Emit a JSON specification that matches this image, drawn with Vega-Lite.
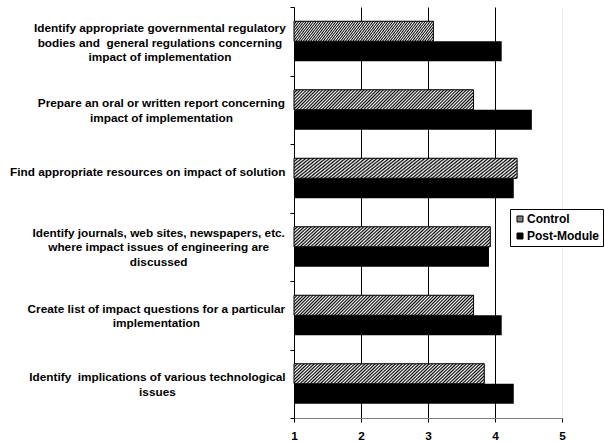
{
  "$schema": "https://vega.github.io/schema/vega-lite/v6.json",
  "width": 268,
  "height": 411,
  "autosize": {"type": "none"},
  "padding": {"left": 294, "top": 7, "right": 43, "bottom": 24},
  "background": "white",
  "config": {"view": {"stroke": null}, "font": "Liberation Sans"},
  "data": {
    "values": [
      {"task": "Identify appropriate governmental regulatory|bodies and\u00a0 general regulations concerning|impact of implementation", "series": "Control", "score": 3.08},
      {"task": "Identify appropriate governmental regulatory|bodies and\u00a0 general regulations concerning|impact of implementation", "series": "Post-Module", "score": 4.10},
      {"task": "Prepare an oral or written report concerning|impact of implementation", "series": "Control", "score": 3.68},
      {"task": "Prepare an oral or written report concerning|impact of implementation", "series": "Post-Module", "score": 4.55},
      {"task": "Find appropriate resources on impact of solution", "series": "Control", "score": 4.33},
      {"task": "Find appropriate resources on impact of solution", "series": "Post-Module", "score": 4.28},
      {"task": "Identify journals, web sites, newspapers, etc.|where impact issues of engineering are|discussed", "series": "Control", "score": 3.93},
      {"task": "Identify journals, web sites, newspapers, etc.|where impact issues of engineering are|discussed", "series": "Post-Module", "score": 3.91},
      {"task": "Create list of impact questions for a particular|implementation", "series": "Control", "score": 3.68},
      {"task": "Create list of impact questions for a particular|implementation", "series": "Post-Module", "score": 4.10},
      {"task": "Identify\u00a0 implications of various technological|issues", "series": "Control", "score": 3.84},
      {"task": "Identify\u00a0 implications of various technological|issues", "series": "Post-Module", "score": 4.28}
    ]
  },
  "encoding": {
    "y": {
      "field": "task", "type": "nominal", "sort": null,
      "scale": {"paddingInner": 0, "paddingOuter": 0},
      "axis": {
        "title": null, "domainColor": "black", "tickColor": "black", "tickSize": 4,
        "tickBand": "extent", "grid": false,
        "labelFont": "Liberation Sans", "labelFontWeight": "bold", "labelFontSize": 11.8,
        "labelColor": "black", "labelAlign": "center", "labelBaseline": "middle",
        "labelLineHeight": 14.5, "labelExpr": "split(datum.label, '|')",
        "labelLimit": 0, "labelOverlap": false, "labelBound": false,
        "labelPadding": {
          "condition": [
            {"test": "datum.value === 'Identify appropriate governmental regulatory|bodies and\u00a0 general regulations concerning|impact of implementation'", "value": 130.6},
            {"test": "datum.value === 'Prepare an oral or written report concerning|impact of implementation'", "value": 129.1},
            {"test": "datum.value === 'Find appropriate resources on impact of solution'", "value": 142.8},
            {"test": "datum.value === 'Identify journals, web sites, newspapers, etc.|where impact issues of engineering are|discussed'", "value": 131.8},
            {"test": "datum.value === 'Create list of impact questions for a particular|implementation'", "value": 134.1}
          ],
          "value": 133.1
        },
        "labelOffset": {
          "condition": [
            {"test": "datum.value === 'Identify appropriate governmental regulatory|bodies and\u00a0 general regulations concerning|impact of implementation'", "value": -13.5},
            {"test": "datum.value === 'Identify journals, web sites, newspapers, etc.|where impact issues of engineering are|discussed'", "value": -14.5}
          ],
          "value": -7
        }
      }
    },
    "yOffset": {"field": "series", "type": "nominal", "scale": {"paddingInner": 0, "paddingOuter": 0.7125}},
    "x": {
      "field": "score", "type": "quantitative",
      "scale": {"domain": [1, 5], "zero": false, "nice": false},
      "axis": {
        "title": null, "values": [1, 2, 3, 4, 5], "format": "d", "grid": true,
        "gridColor": {"condition": {"test": "datum.value === 5", "value": "#eeeeee"}, "value": "black"},
        "domainColor": "#808080", "tickColor": "black", "tickSize": 4,
        "labelFont": "Liberation Sans", "labelFontWeight": "bold", "labelFontSize": 11.8,
        "labelColor": "black", "labelPadding": 8, "labelFlush": false
      }
    },
    "x2": {"datum": 1}
  },
  "layer": [
    {
      "mark": {"type": "bar"},
      "encoding": {
        "fill": {
          "field": "series", "type": "nominal",
          "scale": {"domain": ["Control", "Post-Module"], "range": ["#808080", "#000000"]},
          "legend": {
            "title": null, "orient": "none", "legendX": 216, "legendY": 202,
            "strokeColor": "black", "fillColor": "white", "padding": 4,
            "symbolType": "square", "symbolSize": 36, "symbolStrokeColor": "black", "symbolStrokeWidth": 1,
            "labelFont": "Liberation Sans", "labelFontWeight": "bold", "labelFontSize": 12,
            "labelColor": "black", "labelOffset": 1, "rowPadding": 5
          }
        }
      }
    },
    {
      "transform": [{"filter": "datum.series === 'Control'"}],
      "mark": {
        "type": "bar", "stroke": "black", "strokeWidth": 1,
        "fill": {
          "gradient": "linear", "x1": 0, "y1": 0, "x2": 1.098, "y2": 0.122,
          "stops": [
            {"offset": 0, "color": "#000"}, {"offset": 0.008, "color": "#fff"}, {"offset": 0.016, "color": "#000"}, {"offset": 0.024, "color": "#fff"},
            {"offset": 0.032, "color": "#000"}, {"offset": 0.04, "color": "#fff"}, {"offset": 0.048, "color": "#000"}, {"offset": 0.056, "color": "#fff"},
            {"offset": 0.064, "color": "#000"}, {"offset": 0.072, "color": "#fff"}, {"offset": 0.08, "color": "#000"}, {"offset": 0.088, "color": "#fff"},
            {"offset": 0.096, "color": "#000"}, {"offset": 0.104, "color": "#fff"}, {"offset": 0.112, "color": "#000"}, {"offset": 0.12, "color": "#fff"},
            {"offset": 0.128, "color": "#000"}, {"offset": 0.136, "color": "#fff"}, {"offset": 0.144, "color": "#000"}, {"offset": 0.152, "color": "#fff"},
            {"offset": 0.16, "color": "#000"}, {"offset": 0.168, "color": "#fff"}, {"offset": 0.176, "color": "#000"}, {"offset": 0.184, "color": "#fff"},
            {"offset": 0.192, "color": "#000"}, {"offset": 0.2, "color": "#fff"}, {"offset": 0.208, "color": "#000"}, {"offset": 0.216, "color": "#fff"},
            {"offset": 0.224, "color": "#000"}, {"offset": 0.232, "color": "#fff"}, {"offset": 0.24, "color": "#000"}, {"offset": 0.248, "color": "#fff"},
            {"offset": 0.256, "color": "#000"}, {"offset": 0.264, "color": "#fff"}, {"offset": 0.272, "color": "#000"}, {"offset": 0.28, "color": "#fff"},
            {"offset": 0.288, "color": "#000"}, {"offset": 0.296, "color": "#fff"}, {"offset": 0.304, "color": "#000"}, {"offset": 0.312, "color": "#fff"},
            {"offset": 0.32, "color": "#000"}, {"offset": 0.328, "color": "#fff"}, {"offset": 0.336, "color": "#000"}, {"offset": 0.344, "color": "#fff"},
            {"offset": 0.352, "color": "#000"}, {"offset": 0.36, "color": "#fff"}, {"offset": 0.368, "color": "#000"}, {"offset": 0.376, "color": "#fff"},
            {"offset": 0.384, "color": "#000"}, {"offset": 0.392, "color": "#fff"}, {"offset": 0.4, "color": "#000"}, {"offset": 0.408, "color": "#fff"},
            {"offset": 0.416, "color": "#000"}, {"offset": 0.424, "color": "#fff"}, {"offset": 0.432, "color": "#000"}, {"offset": 0.44, "color": "#fff"},
            {"offset": 0.448, "color": "#000"}, {"offset": 0.456, "color": "#fff"}, {"offset": 0.464, "color": "#000"}, {"offset": 0.472, "color": "#fff"},
            {"offset": 0.48, "color": "#000"}, {"offset": 0.488, "color": "#fff"}, {"offset": 0.496, "color": "#000"}, {"offset": 0.504, "color": "#fff"},
            {"offset": 0.512, "color": "#000"}, {"offset": 0.52, "color": "#fff"}, {"offset": 0.528, "color": "#000"}, {"offset": 0.536, "color": "#fff"},
            {"offset": 0.544, "color": "#000"}, {"offset": 0.552, "color": "#fff"}, {"offset": 0.56, "color": "#000"}, {"offset": 0.568, "color": "#fff"},
            {"offset": 0.576, "color": "#000"}, {"offset": 0.584, "color": "#fff"}, {"offset": 0.592, "color": "#000"}, {"offset": 0.6, "color": "#fff"},
            {"offset": 0.608, "color": "#000"}, {"offset": 0.616, "color": "#fff"}, {"offset": 0.624, "color": "#000"}, {"offset": 0.632, "color": "#fff"},
            {"offset": 0.64, "color": "#000"}, {"offset": 0.648, "color": "#fff"}, {"offset": 0.656, "color": "#000"}, {"offset": 0.664, "color": "#fff"},
            {"offset": 0.672, "color": "#000"}, {"offset": 0.68, "color": "#fff"}, {"offset": 0.688, "color": "#000"}, {"offset": 0.696, "color": "#fff"},
            {"offset": 0.704, "color": "#000"}, {"offset": 0.712, "color": "#fff"}, {"offset": 0.72, "color": "#000"}, {"offset": 0.728, "color": "#fff"},
            {"offset": 0.736, "color": "#000"}, {"offset": 0.744, "color": "#fff"}, {"offset": 0.752, "color": "#000"}, {"offset": 0.76, "color": "#fff"},
            {"offset": 0.768, "color": "#000"}, {"offset": 0.776, "color": "#fff"}, {"offset": 0.784, "color": "#000"}, {"offset": 0.792, "color": "#fff"},
            {"offset": 0.8, "color": "#000"}, {"offset": 0.808, "color": "#fff"}, {"offset": 0.816, "color": "#000"}, {"offset": 0.824, "color": "#fff"},
            {"offset": 0.832, "color": "#000"}, {"offset": 0.84, "color": "#fff"}, {"offset": 0.848, "color": "#000"}, {"offset": 0.856, "color": "#fff"},
            {"offset": 0.864, "color": "#000"}, {"offset": 0.872, "color": "#fff"}, {"offset": 0.88, "color": "#000"}, {"offset": 0.888, "color": "#fff"},
            {"offset": 0.896, "color": "#000"}, {"offset": 0.904, "color": "#fff"}, {"offset": 0.912, "color": "#000"}, {"offset": 0.92, "color": "#fff"},
            {"offset": 0.928, "color": "#000"}, {"offset": 0.936, "color": "#fff"}, {"offset": 0.944, "color": "#000"}, {"offset": 0.952, "color": "#fff"},
            {"offset": 0.96, "color": "#000"}, {"offset": 0.968, "color": "#fff"}, {"offset": 0.976, "color": "#000"}, {"offset": 0.984, "color": "#fff"},
            {"offset": 0.992, "color": "#000"}, {"offset": 1, "color": "#fff"}
          ]
        }
      }
    }
  ]
}
